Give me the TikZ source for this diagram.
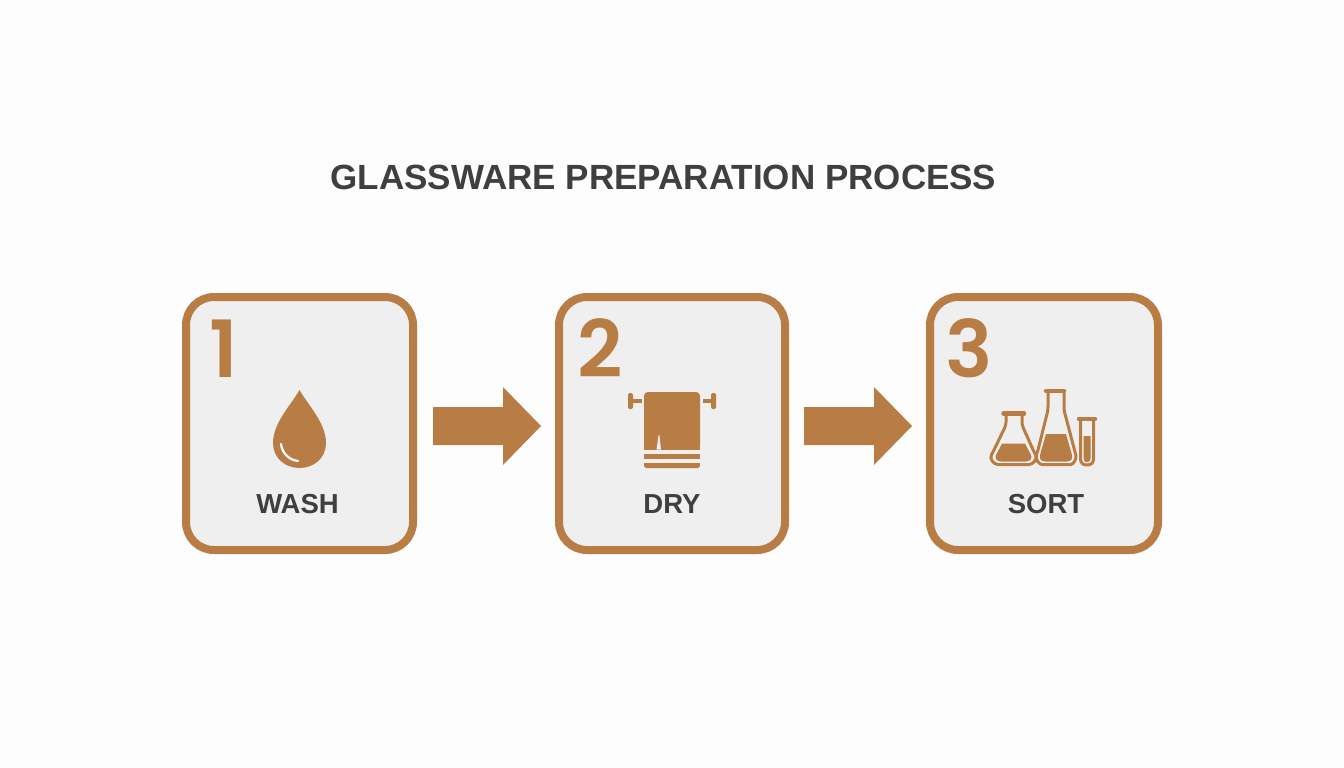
\documentclass[tikz,border=0pt]{standalone}
\usepackage{fontspec}
\setmainfont{Liberation Sans}
\newfontfamily\numfont{Poppins}[UprightFont={* SemiBold}]
\definecolor{brn}{HTML}{B87D45}
\definecolor{ink}{HTML}{3F3F3F}
\definecolor{panel}{HTML}{EFEFEF}
\definecolor{bg}{HTML}{FDFDFD}
\tikzset{
 card/.style={draw=brn,line width=8pt,fill=panel,rounded corners=28pt},
 numeral/.style={text=brn,font=\fontsize{79}{79}\selectfont\numfont,inner sep=0pt,anchor=base},
 caption/.style={text=ink,font=\fontsize{27.5}{28}\selectfont\bfseries,inner sep=0pt,anchor=base},
 heading/.style={text=ink,font=\fontsize{35}{36}\selectfont\bfseries,inner sep=0pt,anchor=base},
 flow/.style={fill=brn,draw=none},
 glass/.style={draw=brn,line width=3pt,fill=panel,line join=round},
 lip/.style={draw=brn,line width=4.5pt,line cap=round},
 liquid/.style={fill=brn,draw=none},
}
\begin{document}
\begin{tikzpicture}[x=1pt,y=-1pt]
\useasboundingbox (0,0) rectangle (1344,768);
\fill[bg] (0,0) rectangle (1344,768);
\node[heading] (title) at (663.5,189) {GLASSWARE PREPARATION PROCESS};
% cards
\draw[card] (186,297) rectangle (413,550);
\draw[card] (559,297) rectangle (785,550);
\draw[card] (930,297) rectangle (1158,550);
\node[numeral] (n1) at (224,377.5) {1};
\node[numeral] (n2) at (600,377.5) {2};
\node[numeral] (n3) at (969,377.5) {3};
\node[caption] (wash) at (297.5,513) {WASH};
\node[caption] (dry) at (672,513) {DRY};
\node[caption] (sort) at (1046,513) {SORT};
% arrows
\fill[flow] (433,407) -- (503,407) -- (503,387) -- (541,426) -- (503,465) -- (503,445) -- (433,445) -- cycle;
\fill[flow] (804,407) -- (874,407) -- (874,387) -- (912,426) -- (874,465) -- (874,445) -- (804,445) -- cycle;
% drop
\fill[brn] (299.5,390) .. controls (291,405) and (273,423) .. (273,443)
  .. controls (273,458) and (285,468) .. (299.5,468)
  .. controls (314,468) and (326,458) .. (326,443)
  .. controls (326,423) and (308,405) .. (299.5,390) -- cycle;
\draw[white,line width=2.2pt,line cap=round] (281,444) .. controls (282,453) and (289,460) .. (298,461);
% towel
\fill[brn,rounded corners=4pt] (644,392) rectangle (700,449.5);
\fill[brn] (644,445) rectangle (700,449.5);
\fill[panel] (656.5,449.6) -- (658.6,435) -- (659.4,435) -- (661,449.6) -- cycle;
\fill[brn] (644,454) rectangle (700,459);
\fill[brn,rounded corners=2.5pt] (644,463) rectangle (700,468);
\fill[brn] (644,463) rectangle (700,465);
\fill[brn] (632,399) rectangle (642,403);
\fill[brn] (703,399) rectangle (712,403);
\fill[brn,rounded corners=2pt] (628,393) rectangle (633,409);
\fill[brn,rounded corners=2pt] (711,393) rectangle (716,409);
% left flask
\draw[glass,rounded corners=3pt] (1006,414) -- (1006,425) -- (993,452) .. controls (989,459) and (994,464.5) .. (1001,464.5) -- (1026,464.5) .. controls (1033,464.5) and (1038,459) .. (1034,452) -- (1022,425) -- (1022,414);
\draw[lip] (1003.5,413.5) -- (1024,413.5);
\fill[liquid] (1002,443.5) -- (1025,443.5) -- (1031,455) .. controls (1032.5,458.5) and (1030,461.5) .. (1026,461.5) -- (1001,461.5) .. controls (997,461.5) and (994.5,458.5) .. (996,455) -- cycle;
% middle flask
\draw[glass,rounded corners=3pt] (1048,391) -- (1048,410) -- (1037.5,452) .. controls (1035,459) and (1039,464.5) .. (1045,464.5) -- (1068,464.5) .. controls (1073,464.5) and (1077,459) .. (1075,452) -- (1064,410) -- (1064,391);
\draw[lip] (1046,391) -- (1064,391);
\fill[liquid] (1046,434) -- (1066,434) -- (1072,455) .. controls (1073,458.5) and (1071,461.5) .. (1067,461.5) -- (1045,461.5) .. controls (1041,461.5) and (1039,458.5) .. (1040,455) -- cycle;
% tube
\draw[glass] (1080.5,419) -- (1080.5,459) .. controls (1080.5,463) and (1083,465) .. (1087,465) .. controls (1091,465) and (1093.5,463) .. (1093.5,459) -- (1093.5,419);
\draw[lip] (1079,419) -- (1095,419);
\fill[liquid] (1083.5,436) -- (1090.5,436) -- (1090.5,458.5) .. controls (1090.5,461) and (1089,462.3) .. (1087,462.3) .. controls (1085,462.3) and (1083.5,461) .. (1083.5,458.5) -- cycle;
\end{tikzpicture}
\end{document}
